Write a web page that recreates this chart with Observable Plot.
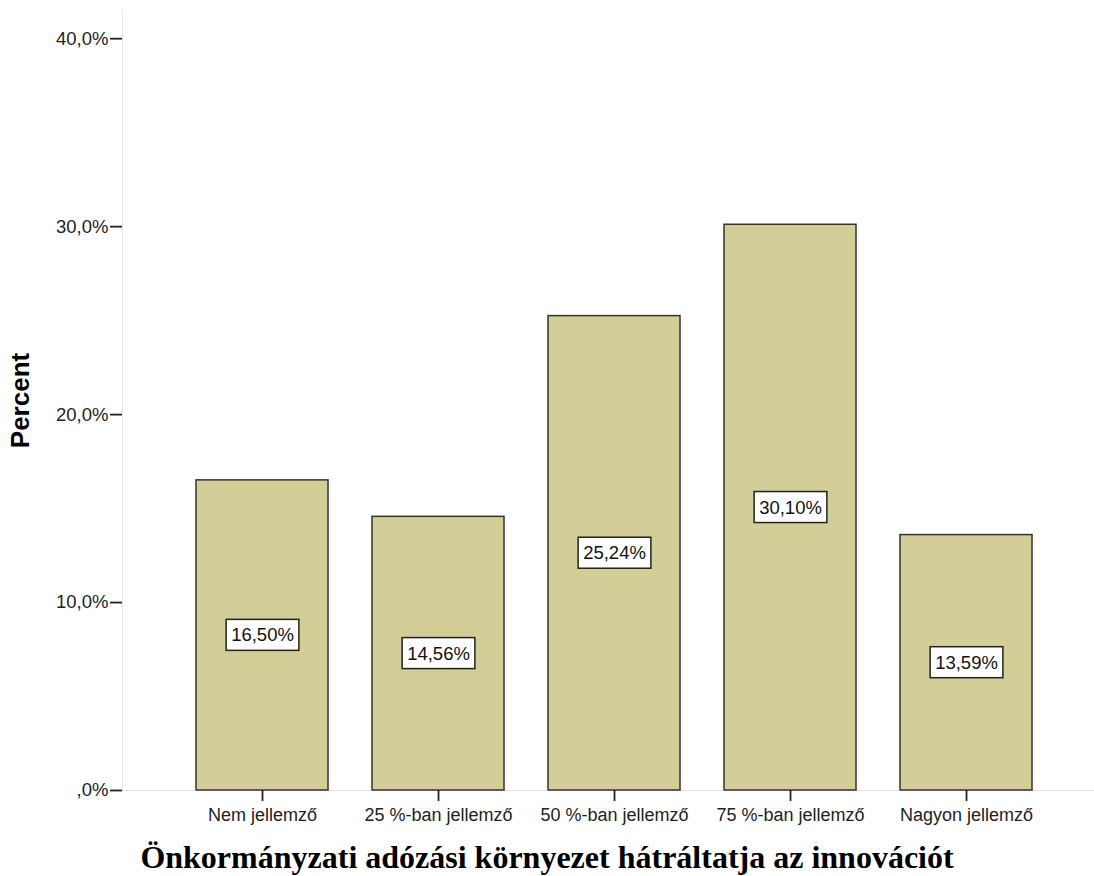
<!DOCTYPE html>
<html>
<head>
<meta charset="utf-8">
<script src="https://cdn.jsdelivr.net/npm/d3@7"></script>
<script src="https://cdn.jsdelivr.net/npm/@observablehq/plot@0.6"></script>
<style>
  body { margin: 0; background: #fff; font-family: "Liberation Sans", Arial, sans-serif; }
  #chart svg { display: block; }
  #title { font-family: "Liberation Serif", "Times New Roman", serif; font-weight: bold; font-size: 32px; line-height: 36px; text-align: center; width: 1094px; margin-top: 7px; color: #000; }
  g[aria-label="y-axis label"] text { font-weight: bold; font-size: 26px; fill: #000; }
</style>
</head>
<body>
<div id="chart"></div>
<div id="title">Önkormányzati adózási környezet hátráltatja az innovációt</div>
<script>
const categories = ["Nem jellemző", "25 %-ban jellemző", "50 %-ban jellemző", "75 %-ban jellemző", "Nagyon jellemző"];
const percents = [16.50, 14.56, 25.24, 30.10, 13.59];
const yTicks = [0, 10, 20, 30, 40];
const yTickLabels = [",0%", "10,0%", "20,0%", "30,0%", "40,0%"];

const data = categories.map((c, i) => ({cat: c, pct: percents[i], label: percents[i].toFixed(2).replace(".", ",") + "%"}));

const plot = Plot.plot({
  width: 1094,
  height: 832,
  marginLeft: 122,
  marginRight: 0,
  marginTop: 10,
  marginBottom: 42,
  style: {fontFamily: "'Liberation Sans', Arial, sans-serif", fontSize: "18px", color: "#222", background: "#fff"},
  x: {domain: categories, range: [194, 1033], paddingInner: 0.25, paddingOuter: 0, label: null},
  y: {domain: [0, 41.5], label: null},
  marks: [
    Plot.frame({anchor: "left", stroke: "#e4e4e4"}),
    Plot.ruleY([0], {stroke: "#e4e4e4"}),
    Plot.barY(data, {x: "cat", y: "pct", fill: "#d3ce98", stroke: "#333", strokeWidth: 1.5}),
    Plot.axisY(yTicks, {tickSize: 12, tickPadding: 2, tickFormat: (d) => yTickLabels[yTicks.indexOf(d)], stroke: "#222", strokeWidth: 1.8, fontSize: 18.5, label: "Percent", labelAnchor: "center", labelArrow: "none", labelOffset: 112}),
    Plot.axisX({tickSize: 11, tickPadding: 7, stroke: "#222", strokeWidth: 1.8, fontSize: 18, label: null}),
    Plot.text(data, {x: "cat", y: (d) => d.pct / 2, text: "label", fontSize: 18.5, fill: "#111", className: "vlabel"})
  ]
});
document.getElementById("chart").appendChild(plot);

// add white boxes behind value labels, sized from the rendered text
d3.select(plot).selectAll("g.vlabel text").each(function() {
  const bb = this.getBBox();
  const padX = 5, padY = 5;
  d3.select(this.parentNode).insert("rect", () => this)
    .attr("transform", this.getAttribute("transform"))
    .attr("x", bb.x - padX).attr("y", bb.y - padY)
    .attr("width", bb.width + 2 * padX).attr("height", bb.height + 2 * padY)
    .attr("fill", "#fff").attr("stroke", "#222").attr("stroke-width", 1.5);
});
</script>
</body>
</html>
